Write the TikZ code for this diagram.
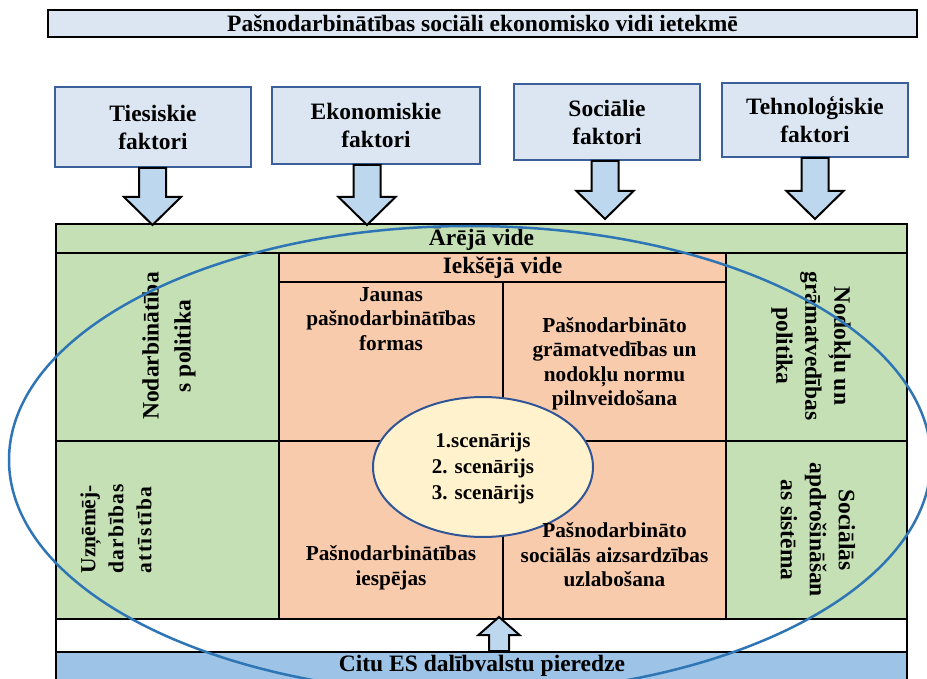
\documentclass[tikz,border=0pt]{standalone}
\usepackage{fontspec}
\setmainfont{Liberation Serif}
\usetikzlibrary{calc}
\definecolor{boxblue}{HTML}{DCE6F2}
\definecolor{boxedge}{HTML}{3A5F9A}
\definecolor{arrowfill}{HTML}{BDD7EE}
\definecolor{greencell}{HTML}{C5E0B4}
\definecolor{salmoncell}{HTML}{F8CBAD}
\definecolor{bandblue}{HTML}{9DC3E6}
\definecolor{scenfill}{HTML}{FFF2CC}
\definecolor{ellblue}{HTML}{2E75B6}
\definecolor{scenedge}{HTML}{2F5597}
\newcommand\blockdown[2]{%
  \filldraw[blockarr] ($(#1.south -| #2)+(-13.5,0)$) -- ($(#1.south -| #2)+(13.5,0)$)
    -- ($(#2)+(13.5,-28)$) -- ($(#2)+(28.5,-28)$) -- (#2) -- ($(#2)+(-28.5,-28)$)
    -- ($(#2)+(-13.5,-28)$) -- cycle;}
\tikzset{
  bigfont/.style={font=\bfseries\fontsize{23.5}{28}\selectfont},
  midfont/.style={font=\bfseries\fontsize{21.3}{24.5}\selectfont},
  factor/.style={draw=boxedge, line width=2pt, fill=boxblue, inner sep=0pt, align=center, bigfont},
  titlebox/.style={draw=black, line width=2pt, fill=boxblue, inner sep=0pt, align=center, bigfont},
  cellgreen/.style={draw=black, line width=1.8pt, fill=greencell, inner sep=0pt},
  cellsal/.style={draw=black, line width=1.8pt, fill=salmoncell, inner sep=0pt},
  cellwhite/.style={draw=black, line width=1.8pt, fill=white, inner sep=0pt},
  cellband/.style={draw=black, line width=1.8pt, fill=bandblue, inner sep=0pt},
  blockarr/.style={draw=black, line width=2pt, fill=arrowfill, line join=miter},
  txt/.style={inner sep=0pt, align=center, midfont},
  rottxt/.style={inner sep=0pt, align=center, font=\bfseries\fontsize{23.5}{29}\selectfont},
}
\begin{document}
\begin{tikzpicture}[x=1pt,y=-1pt]
\useasboundingbox (0,0) rectangle (927,679);
\clip (0,0) rectangle (927,679);

% title
\node[titlebox, minimum width=869pt, minimum height=27pt] (title) at (482.5,23.5)
  {Pašnodarbinātības sociāli ekonomisko vidi ietekmē};

% factor boxes
\node[factor, minimum width=196pt, minimum height=80pt] (f1) at (153,127) {Tiesiskie\\faktori};
\node[factor, minimum width=208pt, minimum height=77pt] (f2) at (376,125.5) {Ekonomiskie\\faktori};
\node[factor, minimum width=186pt, minimum height=76pt] (f3) at (607,122) {Sociālie\\faktori};
\node[factor, minimum width=186pt, minimum height=74pt] (f4) at (815,120) {Tehnoloģiskie\\faktori};

% grid cells
\node[cellgreen, minimum width=851pt, minimum height=29pt, bigfont] (outer) at (481.5,238.5) {Ārējā vide};
\node[cellgreen, minimum width=223pt, minimum height=188pt] (lt) at (167.5,347) {};
\node[cellgreen, minimum width=223pt, minimum height=178pt] (lb) at (167.5,530) {};
\node[cellgreen, minimum width=181pt, minimum height=188pt] (rt) at (816.5,347) {};
\node[cellgreen, minimum width=181pt, minimum height=178pt] (rb) at (816.5,530) {};
\node[cellsal, minimum width=447pt, minimum height=29pt, bigfont] (inner) at (502.5,267.5) {Iekšējā vide};
\node[cellsal, minimum width=224pt, minimum height=159pt] (m1) at (391,361.5) {};
\node[cellsal, minimum width=223pt, minimum height=159pt] (m2) at (614.5,361.5) {};
\node[cellsal, minimum width=224pt, minimum height=178pt] (m3) at (391,530) {};
\node[cellsal, minimum width=223pt, minimum height=178pt] (m4) at (614.5,530) {};
\node[cellwhite, minimum width=851pt, minimum height=33pt] (gap) at (481.5,635.5) {};
\node[cellband, minimum width=851pt, minimum height=29pt] (band) at (481.5,666.5) {};
\node[inner sep=0pt, bigfont] (bandtxt) at (482,666) {Citu ES dalībvalstu pieredze};

% arrows
\coordinate (t1) at (152.5,225);
\coordinate (t2) at (367,225);
\coordinate (t3) at (605,219);
\coordinate (t4) at (815,219);
\blockdown{f1}{t1}
\blockdown{f2}{t2}
\blockdown{f3}{t3}
\blockdown{f4}{t4}
\coordinate (t5) at (499,617);
\filldraw[blockarr] ($(band.north -| t5)+(-10,0)$) -- ($(t5)+(-10,18)$) -- ($(t5)+(-20.5,18)$)
  -- (t5) -- ($(t5)+(20.5,18)$) -- ($(t5)+(10,18)$) -- ($(band.north -| t5)+(10,0)$) -- cycle;

% scenarios ellipse
\draw[draw=scenedge, line width=2pt, fill=scenfill] (483,467) ellipse [x radius=110pt, y radius=70pt];
\node[inner sep=0pt, align=center, font=\bfseries\fontsize{21}{26}\selectfont] (scen) at (483,468)
  {1.scenārijs\\2. scenārijs\\3. scenārijs};

% cell texts
\node[txt, anchor=north] (m1t) at (391,287) {Jaunas\\pašnodarbinātības\\formas};
\node[txt] (m2t) at (614.5,364) {Pašnodarbināto\\grāmatvedības un\\nodokļu normu\\pilnveidošana};
\node[txt] (m3t) at (391,568) {Pašnodarbinātības\\iespējas};
\node[txt] (m4t) at (614.5,555) {Pašnodarbināto\\sociālās aizsardzības\\uzlabošana};

\node[rottxt, rotate=90, font=\bfseries\fontsize{23.5}{32}\selectfont] (ltt) at (169,346) {Nodarbinātība\\s politika};
\node[rottxt, rotate=90, align=left, font=\bfseries\fontsize{21.5}{28}\selectfont] (lbt) at (116,529)
  {Uzņēmēj-\\\makebox[89pt][s]{d\hfil a\hfil r\hfil b\hfil ī\hfil b\hfil a\hfil s}\\\makebox[87pt][s]{a\hfil t\hfil t\hfil ī\hfil s\hfil t\hfil ī\hfil b\hfil a}};
\node[rottxt, rotate=-90] (rtt) at (811,346) {Nodokļu un\\grāmatvedības\\politika};
\node[rottxt, rotate=-90] (rbt) at (818,530) {Sociālās\\apdrošināšan\\as sistēma};

% big ellipse
\draw[draw=ellblue, line width=2.5pt] (470,460) ellipse [x radius=461pt, y radius=234pt];
\end{tikzpicture}
\end{document}
